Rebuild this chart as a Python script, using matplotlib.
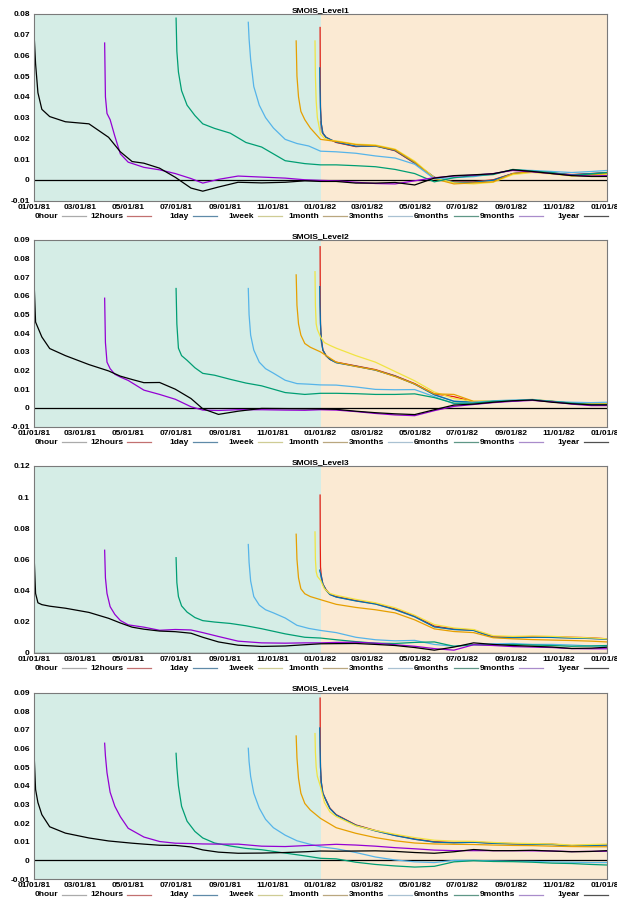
import datetime as dt

import matplotlib
matplotlib.use("Agg")
import matplotlib.dates as mdates
import matplotlib.pyplot as plt
import numpy as np
from matplotlib.ticker import FormatStrFormatter, MultipleLocator

plt.rcParams["font.family"] = ["Liberation Sans", "DejaVu Sans"]
plt.rcParams["font.weight"] = "bold"

START = dt.datetime(1981, 1, 1)
SPLIT = dt.datetime(1982, 1, 1)
END = dt.datetime(1983, 1, 1)

SERIES = ["0hour", "12hours", "1day", "1week", "1month", "3months", "6months", "9months", "1year"]
LINE_COLORS = ["#a0a0a0", "#e51e10", "#0072b2", "#f0e442", "#e69f00",
               "#56b4e9", "#009e73", "#9400d3", "black"]
LEGEND_COLORS = ["#ababab", "#c27070", "#5f8aa8", "#cfcc95", "#b9a77f",
                 "#a9c1d2", "#5f9787", "#a98ccb", "#505050"]

# days after 01/01/81; shared 1982 part
T82 = [385, 410, 435, 460, 485, 510, 535, 560, 585, 610, 635, 660, 685, 710, 730]
D_0HOUR = [365, 365.2, 365.6, 366.5, 368, 372, 377] + T82
D_12HOURS = [364.5, 364.7, 365, 366, 368, 372, 377] + T82
D_1DAY = [364, 364.3, 365, 366, 368, 372, 377] + T82
D_1WEEK = [358, 358.5, 359.5, 361, 365, 370, 377] + T82
D_1MONTH = [334, 335, 337, 340, 345, 352, 365] + T82
D_3MONTHS = [273, 274, 276, 280, 287, 295, 305, 320, 335, 350, 365] + T82
D_6MONTHS = [181, 182, 184, 188, 195, 205, 215, 230, 250, 270, 290, 320, 345, 365] + T82
D_9MONTHS = [90, 91, 93, 97, 103, 110, 120, 140, 160, 180, 200, 215, 235, 260,
             290, 320, 345, 365] + T82
D_1YEAR = [0, 2, 5, 10, 20, 40, 70, 95, 110, 125, 140, 160, 180, 200, 215, 235,
           260, 290, 320, 345, 365] + T82

# Level1
L1_0HOUR = [0.028, 0.026, 0.024, 0.023, 0.0222, 0.0205, 0.0195,
            0.0181, 0.0161, 0.0162, 0.0141, 0.0081, 0.0011, -0.0012, -0.0013, -0.0003,
            0.0029, 0.0039, 0.0031, 0.0023, 0.0029, 0.0033]
L1_12HOURS = [0.0735, 0.05, 0.035, 0.027, 0.0225, 0.0205, 0.0195,
              0.018, 0.016, 0.0165, 0.014, 0.008, 0.0012, -0.001, -0.001, 0.0,
              0.003, 0.0038, 0.0032, 0.0025, 0.003, 0.0035]
L1_1DAY = [0.054, 0.045, 0.034, 0.027, 0.0225, 0.0205, 0.0195,
           0.0182, 0.0162, 0.0163, 0.0142, 0.0082, 0.0012, -0.0012, -0.0012, -0.0002,
           0.003, 0.004, 0.0032, 0.0024, 0.003, 0.0034]
L1_1WEEK = [0.067, 0.05, 0.038, 0.03, 0.022, 0.02, 0.019,
            0.0188, 0.0172, 0.0168, 0.0148, 0.009, 0.001, -0.0015, -0.002, -0.0012,
            0.0025, 0.0035, 0.0028, 0.0018, 0.002, 0.0028]
L1_1MONTH = [0.067, 0.05, 0.04, 0.033, 0.029, 0.025, 0.0195,
             0.0185, 0.017, 0.0165, 0.0145, 0.0085, 0.0005, -0.002, -0.0015, -0.001,
             0.003, 0.004, 0.003, 0.002, 0.0025, 0.003]
L1_3MONTHS = [0.076, 0.068, 0.058, 0.045, 0.036, 0.030, 0.025, 0.0195, 0.0175, 0.0163, 0.0138,
              0.0135, 0.0128, 0.0115, 0.0105, 0.0075, 0.0005, 0.001, 0.0015, 0.0028,
              0.0048, 0.0045, 0.004, 0.0035, 0.004, 0.0045]
L1_6MONTHS = [0.078, 0.062, 0.052, 0.043, 0.036, 0.031, 0.027, 0.0248, 0.0225, 0.018,
              0.0158, 0.0092, 0.0078, 0.0072,
              0.0072, 0.0068, 0.0063, 0.005, 0.003, -0.001, 0.001, 0.002, 0.0025, 0.005,
              0.0042, 0.0035, 0.0022, 0.0028, 0.0035]
L1_9MONTHS = [0.066, 0.04, 0.032, 0.029, 0.021, 0.0125, 0.0085, 0.006, 0.0048, 0.003,
              0.0006, -0.0016, 0.0002, 0.0018, 0.0013, 0.0008, 0.0, -0.0003,
              -0.0005, -0.0012, -0.0018, -0.002, -0.0005, 0.001, 0.0018, 0.0022, 0.003,
              0.0045, 0.0038, 0.003, 0.0022, 0.0018, 0.002]
L1_1YEAR = [0.071, 0.056, 0.042, 0.034, 0.0305, 0.028, 0.027, 0.0205, 0.0135, 0.0088,
            0.008, 0.0056, 0.0012, -0.004, -0.0055, -0.0035, -0.0012, -0.0015, -0.0012,
            -0.0005, -0.0008,
            -0.0008, -0.0016, -0.0016, -0.0013, -0.0025, 0.0008, 0.002, 0.0024, 0.0029,
            0.0048, 0.004, 0.003, 0.002, 0.0016, 0.0016]

# Level2
L2_0HOUR = [0.04, 0.038, 0.036, 0.034, 0.031, 0.028, 0.026,
            0.0243, 0.0224, 0.0203, 0.0171, 0.0128, 0.0071, 0.0036, 0.0031, 0.0034,
            0.0038, 0.0044, 0.0034, 0.0024, 0.0019, 0.0018]
L2_12HOURS = [0.0864, 0.06, 0.045, 0.037, 0.031, 0.028, 0.026,
              0.0245, 0.0225, 0.0205, 0.0172, 0.013, 0.0075, 0.006, 0.0032, 0.0034,
              0.0038, 0.0043, 0.0034, 0.0024, 0.0018, 0.0016]
L2_1DAY = [0.065, 0.055, 0.045, 0.037, 0.031, 0.028, 0.026,
           0.0242, 0.0223, 0.0202, 0.017, 0.0127, 0.007, 0.0035, 0.003, 0.0034,
           0.0038, 0.0044, 0.0034, 0.0024, 0.0019, 0.0018]
L2_1WEEK = [0.073, 0.055, 0.045, 0.042, 0.038, 0.035, 0.0335,
            0.032, 0.028, 0.0245, 0.0195, 0.0145, 0.0085, 0.005, 0.0035, 0.0038,
            0.004, 0.0045, 0.0036, 0.0026, 0.0022, 0.0022]
L2_1MONTH = [0.0713, 0.055, 0.045, 0.039, 0.0345, 0.0325, 0.03,
             0.0245, 0.0222, 0.0203, 0.0168, 0.0128, 0.0075, 0.0072, 0.0035, 0.0035,
             0.0038, 0.0042, 0.0035, 0.0025, 0.002, 0.002]
L2_3MONTHS = [0.064, 0.05, 0.039, 0.031, 0.0245, 0.021, 0.0186, 0.0148, 0.013, 0.0127, 0.0123,
              0.0122, 0.0112, 0.0099, 0.0097, 0.0098, 0.006, 0.0022, 0.003, 0.0038,
              0.0042, 0.0045, 0.0035, 0.003, 0.0028, 0.003]
L2_6MONTHS = [0.064, 0.045, 0.032, 0.028, 0.0255, 0.0215, 0.0185, 0.0175, 0.0153, 0.0133,
              0.0118, 0.0082, 0.0072, 0.0078,
              0.0078, 0.0076, 0.0072, 0.0072, 0.0075, 0.0055, 0.0025, 0.0025, 0.0035,
              0.0038, 0.0042, 0.0035, 0.0025, 0.0018, 0.0018]
L2_9MONTHS = [0.0588, 0.035, 0.0245, 0.021, 0.018, 0.0165, 0.0147, 0.0095, 0.0072, 0.0046,
              0.0006, -0.0012, -0.0014, -0.001, -0.001, -0.0012, -0.0013, -0.001,
              -0.0012, -0.002, -0.003, -0.0038, -0.0042, -0.0015, 0.0008, 0.0018, 0.0028,
              0.0035, 0.004, 0.0032, 0.002, 0.0012, 0.0012]
L2_1YEAR = [0.0686, 0.046, 0.043, 0.038, 0.0318, 0.028, 0.0232, 0.0198, 0.017, 0.0152,
            0.0135, 0.0136, 0.01, 0.005, -0.0005, -0.0035, -0.0018, -0.0003, -0.0004,
            -0.0005, -0.0006,
            -0.0008, -0.0018, -0.0026, -0.0032, -0.0036, -0.001, 0.0015, 0.002, 0.003,
            0.0038, 0.0042, 0.003, 0.0022, 0.0016, 0.0016]

# Level3
L3_0HOUR = [0.05, 0.049, 0.048, 0.047, 0.044, 0.0402, 0.0373,
            0.0357, 0.0332, 0.0312, 0.0276, 0.023, 0.0165, 0.0148, 0.0142, 0.0098,
            0.0095, 0.0098, 0.0097, 0.0093, 0.009, 0.0085]
L3_12HOURS = [0.1013, 0.07, 0.055, 0.0495, 0.044, 0.0405, 0.0375,
              0.036, 0.0335, 0.0315, 0.028, 0.0235, 0.017, 0.0152, 0.0145, 0.0102,
              0.01, 0.0103, 0.0102, 0.0098, 0.0095, 0.0088]
L3_1DAY = [0.053, 0.052, 0.051, 0.049, 0.044, 0.0402, 0.0373,
           0.0357, 0.0332, 0.0312, 0.0276, 0.023, 0.0165, 0.0148, 0.0142, 0.0098,
           0.0095, 0.0098, 0.0097, 0.0093, 0.009, 0.0085]
L3_1WEEK = [0.0776, 0.06, 0.052, 0.049, 0.0465, 0.041, 0.038,
            0.0368, 0.0342, 0.032, 0.0288, 0.024, 0.018, 0.0158, 0.0148, 0.0108,
            0.0104, 0.0106, 0.0104, 0.0098, 0.0094, 0.0088]
L3_1MONTH = [0.0761, 0.06, 0.048, 0.041, 0.0378, 0.036, 0.034,
             0.031, 0.029, 0.0275, 0.0255, 0.021, 0.0152, 0.0135, 0.0128, 0.0095,
             0.0088, 0.0083, 0.008, 0.0077, 0.0073, 0.0068]
L3_3MONTHS = [0.0695, 0.058, 0.046, 0.036, 0.0305, 0.0275, 0.0255, 0.0222, 0.0175, 0.0155, 0.0142,
              0.0128, 0.0098, 0.0082, 0.0075, 0.0078, 0.0052, 0.004, 0.005, 0.0056,
              0.0058, 0.0052, 0.0052, 0.0048, 0.0042, 0.004]
L3_6MONTHS = [0.061, 0.045, 0.036, 0.03, 0.026, 0.0225, 0.0205, 0.0196, 0.0187, 0.0172,
              0.0153, 0.012, 0.0098, 0.0093,
              0.0082, 0.007, 0.006, 0.0058, 0.0065, 0.0068, 0.004, 0.005, 0.0048, 0.0052,
              0.0048, 0.0045, 0.004, 0.0042, 0.0045]
L3_9MONTHS = [0.0658, 0.048, 0.038, 0.0295, 0.0245, 0.0206, 0.0178, 0.0163, 0.0143, 0.0148,
              0.0145, 0.0128, 0.0103, 0.0073, 0.0062, 0.006, 0.0062, 0.0062,
              0.0065, 0.0066, 0.006, 0.005, 0.004, 0.0025, 0.0015, 0.005, 0.0045, 0.0038,
              0.0035, 0.0032, 0.0025, 0.0024, 0.0024]
L3_1YEAR = [0.0637, 0.038, 0.032, 0.0308, 0.0298, 0.0285, 0.0258, 0.022, 0.019, 0.0163,
            0.015, 0.0138, 0.0134, 0.0124, 0.0098, 0.0068, 0.0047, 0.0039, 0.0042, 0.005,
            0.0056,
            0.0057, 0.0058, 0.0052, 0.0045, 0.0032, 0.0015, 0.0035, 0.0062, 0.0052, 0.0045,
            0.004, 0.0035, 0.0026, 0.0028, 0.0034]

# Level4
L4_0HOUR = [0.045, 0.043, 0.041, 0.039, 0.036, 0.0322, 0.0278,
            0.0243, 0.0188, 0.0158, 0.0133, 0.0113, 0.0098, 0.0094, 0.0097, 0.0091,
            0.0088, 0.0086, 0.0085, 0.0077, 0.008, 0.0082]
L4_12HOURS = [0.087, 0.062, 0.05, 0.042, 0.036, 0.0324, 0.028,
              0.0245, 0.019, 0.016, 0.0135, 0.0115, 0.01, 0.0096, 0.0099, 0.0093,
              0.009, 0.0088, 0.0087, 0.0079, 0.0082, 0.0084]
L4_1DAY = [0.071, 0.062, 0.05, 0.042, 0.036, 0.0322, 0.0278,
           0.0243, 0.0188, 0.0158, 0.0133, 0.0113, 0.0098, 0.0094, 0.0097, 0.0091,
           0.0088, 0.0086, 0.0085, 0.0077, 0.008, 0.0082]
L4_1WEEK = [0.068, 0.058, 0.05, 0.045, 0.0395, 0.031, 0.026,
            0.0235, 0.0185, 0.016, 0.014, 0.0122, 0.0108, 0.0103, 0.0102, 0.0096,
            0.0092, 0.009, 0.0088, 0.0082, 0.0085, 0.0087]
L4_1MONTH = [0.0667, 0.055, 0.044, 0.036, 0.0305, 0.027, 0.0225,
             0.0175, 0.0145, 0.0122, 0.0105, 0.0093, 0.0088, 0.0086, 0.0085, 0.0082,
             0.008, 0.0079, 0.0076, 0.0074, 0.0073, 0.0073]
L4_3MONTHS = [0.0601, 0.053, 0.045, 0.036, 0.028, 0.022, 0.0175, 0.0135, 0.0105, 0.0088, 0.0073,
              0.0062, 0.0042, 0.0018, 0.0002, -0.0008, -0.0012, 0.0, 0.0, -0.0003,
              -0.0005, -0.0006, -0.0008, -0.001, -0.0012, -0.0012]
L4_6MONTHS = [0.0574, 0.05, 0.04, 0.029, 0.021, 0.0155, 0.012, 0.0093, 0.0077, 0.0064,
              0.0057, 0.0039, 0.0024, 0.0011,
              0.0008, -0.001, -0.0022, -0.003, -0.0036, -0.0032, -0.0008, -0.0002,
              -0.0006, -0.0007, -0.001, -0.0015, -0.0017, -0.0022, -0.0025]
L4_9MONTHS = [0.0628, 0.056, 0.047, 0.0365, 0.029, 0.0234, 0.0172, 0.0125, 0.0101, 0.0092,
              0.009, 0.0088, 0.0087, 0.0087, 0.0076, 0.0074, 0.0079, 0.0082,
              0.0086, 0.0082, 0.0076, 0.0068, 0.0062, 0.0055, 0.0052, 0.0052, 0.0052,
              0.0052, 0.0051, 0.005, 0.0047, 0.0048, 0.0049]
L4_1YEAR = [0.0583, 0.038, 0.031, 0.0245, 0.018, 0.0146, 0.012, 0.0104, 0.0098, 0.0092,
            0.0087, 0.0081, 0.008, 0.0072, 0.0056, 0.0044, 0.0038, 0.0039, 0.0042, 0.0046,
            0.005,
            0.0049, 0.005, 0.0051, 0.0048, 0.0042, 0.0038, 0.0046, 0.0058, 0.0052, 0.0052,
            0.0054, 0.005, 0.0046, 0.0048, 0.0052]

DAYS = [D_0HOUR, D_12HOURS, D_1DAY, D_1WEEK, D_1MONTH, D_3MONTHS, D_6MONTHS, D_9MONTHS, D_1YEAR]
LEVELS = [
    ("SMOIS_Level1", (-0.01, 0.08), 0.01,
     [L1_0HOUR, L1_12HOURS, L1_1DAY, L1_1WEEK, L1_1MONTH, L1_3MONTHS, L1_6MONTHS, L1_9MONTHS, L1_1YEAR]),
    ("SMOIS_Level2", (-0.01, 0.09), 0.01,
     [L2_0HOUR, L2_12HOURS, L2_1DAY, L2_1WEEK, L2_1MONTH, L2_3MONTHS, L2_6MONTHS, L2_9MONTHS, L2_1YEAR]),
    ("SMOIS_Level3", (0.0, 0.12), 0.02,
     [L3_0HOUR, L3_12HOURS, L3_1DAY, L3_1WEEK, L3_1MONTH, L3_3MONTHS, L3_6MONTHS, L3_9MONTHS, L3_1YEAR]),
    ("SMOIS_Level4", (-0.01, 0.09), 0.01,
     [L4_0HOUR, L4_12HOURS, L4_1DAY, L4_1WEEK, L4_1MONTH, L4_3MONTHS, L4_6MONTHS, L4_9MONTHS, L4_1YEAR]),
]

W, H = 617, 899
AX_LEFT, AX_RIGHT = 34, 607
AX_TOPS = [14, 240, 466, 692.5]
AX_H = 186.5


def main() -> None:
    fig = plt.figure(figsize=(W / 100, H / 100), dpi=100)
    x0 = mdates.date2num(START)

    for top, (title, ylim, step, values) in zip(AX_TOPS, LEVELS):
        ax = fig.add_axes([AX_LEFT / W, 1 - (top + AX_H) / H,
                           (AX_RIGHT - AX_LEFT) / W, AX_H / H])
        ax.axvspan(START, SPLIT, color="#d5ede6", lw=0, zorder=0)
        ax.axvspan(SPLIT, END, color="#fbead3", lw=0, zorder=0)
        ax.axhline(0, color="black", lw=0.9, zorder=1)

        for days, vals, color in zip(DAYS, values, LINE_COLORS):
            ax.plot(x0 + np.array(days), vals, color=color, lw=0.9, zorder=2)

        ax.set_xlim(START, END)
        ax.set_ylim(*ylim)
        ax.xaxis.set_major_locator(mdates.MonthLocator(bymonth=[1, 3, 5, 7, 9, 11]))
        ax.xaxis.set_major_formatter(mdates.DateFormatter("%m/%d/%y"))
        ax.yaxis.set_major_locator(MultipleLocator(step))
        ax.yaxis.set_major_formatter(FormatStrFormatter("%g"))
        ax.tick_params(length=0, labelsize=6, pad=3)
        ax.tick_params(axis="x", pad=2.5)
        for side in ax.spines.values():
            side.set_color("#7a7a7a")
            side.set_linewidth(0.8)
        ax.set_title(title, fontsize=6, fontweight="bold", pad=1.5)

        # gnuplot-style key under the panel: label then sample
        ky = -15.5 / AX_H
        span = AX_RIGHT - AX_LEFT
        for k, (name, lc) in enumerate(zip(SERIES, LEGEND_COLORS)):
            sx = 86 + 65.25 * k
            ax.plot([(sx - 24 - AX_LEFT) / span, (sx - AX_LEFT) / span], [ky, ky],
                    color=lc, lw=0.9, transform=ax.transAxes, clip_on=False)
            ax.text((sx - 28 - AX_LEFT) / span, ky, name, transform=ax.transAxes,
                    ha="right", va="center", fontsize=6, fontweight="bold")

    fig.savefig("out.png", dpi=100)
    plt.close(fig)


if __name__ == "__main__":
    main()
